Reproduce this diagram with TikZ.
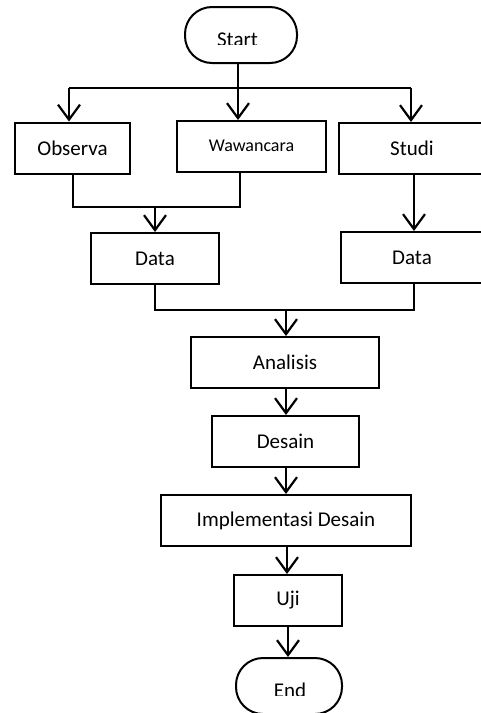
\documentclass[tikz,border=0pt]{standalone}
\usepackage{fontspec}
\setmainfont{Carlito}
\usetikzlibrary{arrows.meta}
\begin{document}
\begin{tikzpicture}[x=1pt,y=-1pt,
  txt/.style={font=\fontsize{21}{25}\selectfont},
  box/.style={draw, line width=2pt, minimum width=#1, minimum height=51pt, inner sep=0pt, txt},
  term/.style={draw, line width=2pt, rounded corners=27pt, minimum width=#1, minimum height=56pt, inner sep=0pt},
  conn/.style={line width=2.2pt},
  arr/.style={conn, -{Straight Barb[length=15pt,width=22pt]}}]
\path[use as bounding box] (0,0) rectangle (481,713);
\clip (0,0) rectangle (481,713);

% terminals
\node[term=112pt] (start) at (241,35) {};
\begin{scope}
  \clip (150,0) rectangle (330,44.5);
  \node[txt, anchor=base, inner sep=0pt] (starttxt) at (237.5,46.5) {Start};
\end{scope}
\node[term=106pt] (end) at (289,686) {};
\begin{scope}
  \clip (150,660) rectangle (330,695);
  \node[txt, anchor=base, inner sep=0pt] (endtxt) at (290,697) {End};
\end{scope}

% boxes
\node[box=115pt] (obs) at (72.5,148) {Observa};
\node[box=149pt, font=\fontsize{18}{22}\selectfont] (waw) at (251.5,146.5) {\raisebox{1.5pt}{Wawancara}};
\node[box=146pt] (studi) at (412,148.5) {Studi};
\node[box=128pt] (datal) at (155,258.5) {Data};
\node[box=146pt] (datar) at (414,257.5) {\hspace*{-4pt}Data};
\node[box=188pt] (ana) at (285,362.5) {Analisis};
\node[box=147pt] (des) at (285.5,441.5) {Desain};
\node[box=250pt] (impl) at (286,520.5) {Implementasi Desain};
\node[box=108pt] (uji) at (288,600.5) {Uji};

% junction coordinates
\coordinate (hub) at (238,88);
\coordinate (hl) at (69,88);
\coordinate (hr) at (411,88);
\coordinate (m1) at (73,207);
\coordinate (m2) at (240,207);
\coordinate (j2) at (155,207);
\coordinate (m3) at (155,310);
\coordinate (m4) at (414,310);
\coordinate (j3) at (286,310);
\coordinate (c4) at (287,560);
\coordinate (c5) at (288,640);

% connectors
\draw[conn] (start.south -| hub) -- (hub);
\draw[conn] (hl) -- (hr);
\draw[arr] (hl) -- (obs.north -| hl);
\draw[arr] (hub) -- (waw.north -| hub);
\draw[arr] (hr) -- (studi.north -| hr);
\draw[conn] (obs.south -| m1) -- (m1) -- (m2) -- (waw.south -| m2);
\draw[arr] (j2) -- (datal.north -| j2);
\draw[arr] (studi.south -| m4) -- (datar.north -| m4);
\draw[conn] (datal.south -| m3) -- (m3) -- (m4) -- (datar.south -| m4);
\draw[arr] (j3) -- (ana.north -| j3);
\draw[arr] (ana.south -| j3) -- (des.north -| j3);
\draw[arr] (des.south -| j3) -- (impl.north -| j3);
\draw[arr] (impl.south -| c4) -- (uji.north -| c4);
\draw[arr] (uji.south -| c5) -- (end.north -| c5);
\end{tikzpicture}
\end{document}
